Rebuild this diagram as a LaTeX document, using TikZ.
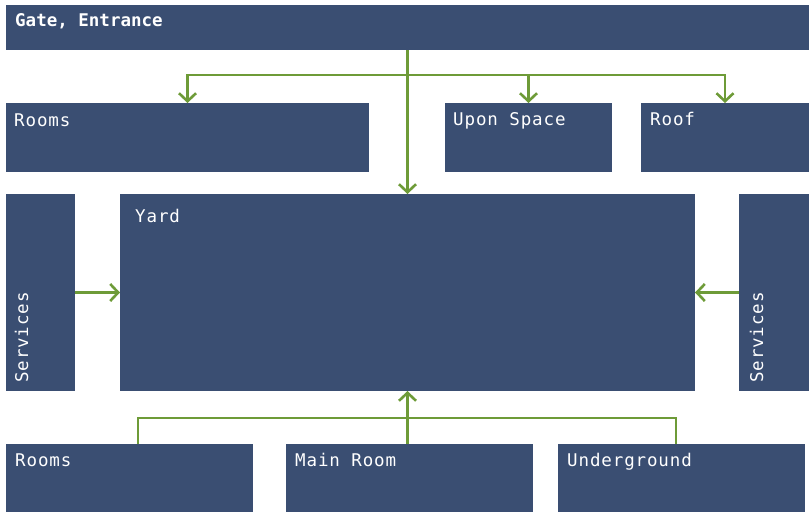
\documentclass[tikz,border=0pt]{standalone}
\usepackage{fontspec}
\setmonofont{DejaVu Sans Mono}[LetterSpace=5]
\newfontfamily\boldmono{DejaVu Sans Mono}[Scale=1]
\usetikzlibrary{arrows.meta,calc}
\definecolor{boxblue}{HTML}{3A4E72}
\definecolor{linkgreen}{HTML}{6E9B38}
\tikzset{
  box/.style={fill=boxblue, draw=none, inner sep=0pt, outer sep=0pt, anchor=north west},
  lbl/.style={text=white, inner sep=0pt, anchor=base west, font=\ttfamily\fontsize{17.5}{20}\selectfont},
  titlelbl/.style={text=white, inner sep=0pt, anchor=base west, font=\boldmono\bfseries\fontsize{17.5}{20}\selectfont},
  conn/.style={draw=linkgreen, line width=2.6pt},
  arr/.style={conn, -{Straight Barb[length=8pt,width=17pt,line width=2.6pt]}},
}
\begin{document}
\begin{tikzpicture}[x=1pt,y=-1pt]
\useasboundingbox (0,0) rectangle (809,512);

% boxes
\node[box, minimum width=803pt, minimum height=45pt] (gate) at (6,5) {};
\node[box, minimum width=363pt, minimum height=68.5pt] (roomsT) at (6,103) {};
\node[box, minimum width=167pt, minimum height=68.5pt] (upon) at (445,103) {};
\node[box, minimum width=168pt, minimum height=68.5pt] (roof) at (641,103) {};
\node[box, minimum width=69pt, minimum height=197pt] (svcL) at (6,194) {};
\node[box, minimum width=575pt, minimum height=197pt] (yard) at (120,194) {};
\node[box, minimum width=70pt, minimum height=197pt] (svcR) at (739,194) {};
\node[box, minimum width=247pt, minimum height=68pt] (roomsB) at (6,444) {};
\node[box, minimum width=247pt, minimum height=68pt] (mainroom) at (286,444) {};
\node[box, minimum width=247pt, minimum height=68pt] (under) at (558,444) {};

% labels
\node[titlelbl] (tGate) at ($(gate.north west)+(9,21)$) {Gate, Entrance};
\node[lbl] (tRoomsT) at ($(roomsT.north west)+(8,23)$) {Rooms};
\node[lbl] (tUpon) at ($(upon.north west)+(8,22)$) {Upon Space};
\node[lbl] (tRoof) at ($(roof.north west)+(9,22)$) {Roof};
\node[lbl] (tYard) at ($(yard.north west)+(15,28)$) {Yard};
\node[lbl, rotate=90] (tSvcL) at ($(svcL.south west)+(22,-8)$) {Services};
\node[lbl, rotate=90] (tSvcR) at ($(svcR.south west)+(24,-8)$) {Services};
\node[lbl] (tRoomsB) at ($(roomsB.north west)+(9,22)$) {Rooms};
\node[lbl] (tMain) at ($(mainroom.north west)+(9,22)$) {Main Room};
\node[lbl] (tUnder) at ($(under.north west)+(9,22)$) {Underground};

% connectors from the gate
\coordinate (split) at ($(yard.north |- 0,75)$);
\draw[arr] (gate.south -| yard.north) -- (yard.north);
\draw[arr] (split) -| (roomsT.north);
\draw[arr] (split) -| (upon.north);
\draw[arr] (split) -| (roof.north);

% services into the yard
\draw[arr] (svcL.east |- yard.west) -- (yard.west);
\draw[arr] (svcR.west |- yard.east) -- (yard.east);

% lower rooms into the yard
\coordinate (merge) at ($(yard.south |- 0,418)$);
\coordinate (rbTop) at ($(roomsB.north west)+(132,0)$);
\coordinate (ugTop) at ($(under.north west)+(118,0)$);
\draw[conn] (rbTop) |- (merge) -| (ugTop);
\draw[arr] (mainroom.north -| yard.south) -- (yard.south);
\end{tikzpicture}
\end{document}
